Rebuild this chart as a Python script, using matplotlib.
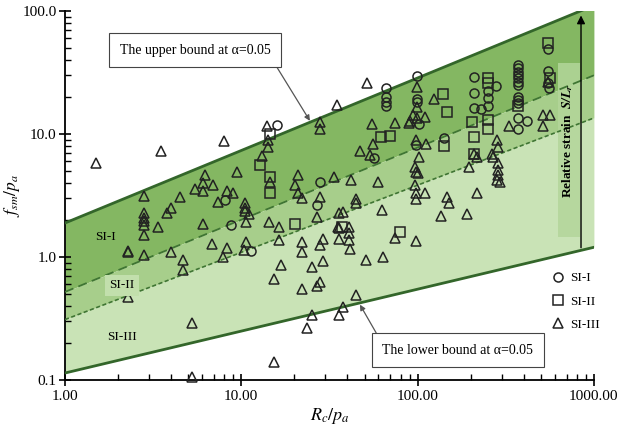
"""Strength ratio vs. confinement ratio with alpha=0.05 bounds and SI zones."""

import matplotlib
matplotlib.use("Agg")
import matplotlib.pyplot as plt
from matplotlib.lines import Line2D
from matplotlib.ticker import LogLocator, FormatStrFormatter, NullFormatter

plt.rcParams['font.family'] = ['Liberation Serif', 'DejaVu Serif']
plt.rcParams['mathtext.fontset'] = 'stix'

# bounding lines (two end points each, x = Rc/pa)
BOUND_X = [1.0, 1000.0]
UPPER = [1.89, 111.0]
SPLIT_12 = [0.52, 30.0]
SPLIT_23 = [0.31, 13.5]
LOWER = [0.114, 1.2]

# SI-I (circles)
si1_x = [16.0, 27.9, 66.2, 66.2, 66.2, 66.2, 98.8, 98.8, 98.8, 102, 56.8, 97.9, 141,
         209, 277, 252, 252, 252, 209, 209, 228,
         372, 372, 372, 372, 372, 372, 372, 372, 372, 372, 372, 372, 416,
         551, 551, 551, 558, 8.09, 8.71, 11.3, 27.0]
si1_y = [11.8, 4.09, 23.5, 20.1, 18.3, 16.9, 29.6, 19.1, 18.3, 12.1, 6.42, 8.14, 9.23,
         29.2, 24.6, 22.5, 19.5, 16.9, 21.4, 16.2, 15.9,
         36.4, 34.2, 32.1, 30.2, 28.4, 26.6, 25.0, 20.1, 18.9, 17.8, 13.4, 10.9, 12.8,
         48.8, 32.7, 25.8, 23.5, 2.91, 1.82, 1.12, 2.65]

# SI-II (squares)
si2_x = [14.5, 12.8, 14.5, 14.5, 140, 147, 61.8, 69.7, 141, 252, 252, 203, 252, 252,
         209, 209, 372, 551, 564, 20.2, 37.1, 79.5]
si2_y = [9.95, 5.57, 4.50, 3.33, 21.0, 15.2, 9.40, 9.64, 7.99, 28.4, 25.8, 12.6, 13.0, 11.0,
         9.51, 6.88, 16.9, 55.2, 28.4, 1.85, 1.74, 1.61]

# SI-III (triangles)
si3_x = [1.50, 3.49, 7.98, 14.0, 14.2, 14.2, 13.1, 9.49, 6.22, 6.09, 5.46, 6.93, 6.09,
         8.26, 9.01, 14.5, 21.0, 20.2, 21.0, 33.6, 27.9, 27.9, 34.8, 2.81, 4.49,
         51.8, 98.8, 98.8, 94.6, 90.6, 110, 99.6, 124, 54.9, 74.5, 89.8, 55.6, 47.1, 53.7,
         97.9, 112, 102, 96.6, 101, 97.9, 41.8, 59.8, 96.6, 209, 216, 263, 269, 287, 281,
         196, 287, 287, 287, 293, 281, 331, 551, 517, 564, 517,
         2.81, 2.81, 2.81, 2.81, 2.81, 2.81, 2.29, 2.29, 3.38, 3.78, 3.99, 3.99, 4.65, 4.65,
         2.29, 5.23, 5.23, 6.09, 6.79, 7.41, 8.33, 7.90, 10.5, 10.5, 10.5, 11.0, 10.6, 10.6,
         10.3, 14.4, 16.3, 16.3, 16.9, 15.4, 22.0, 27.9, 27.0, 22.2, 22.2, 25.1, 22.2, 27.9,
         26.8, 29.2, 27.9, 29.2, 25.1, 23.5, 15.4, 36.0, 36.0, 36.0, 36.0,
         44.7, 44.7, 37.6, 62.5, 97.9, 110, 97.9, 147, 151, 218, 135, 190, 35.5, 41.0, 41.0,
         41.0, 41.4, 74.5, 97.9, 50.9, 63.9, 44.7, 37.9]
si3_y = [5.81, 7.27, 8.77, 11.6, 8.93, 7.88, 6.62, 4.94, 4.64, 4.02, 3.55, 3.85, 3.46,
         3.46, 3.33, 4.09, 4.64, 3.85, 3.33, 4.50, 12.6, 10.9, 17.2, 3.13, 3.06,
         26.1, 24.0, 16.7, 14.3, 12.8, 13.8, 13.4, 19.1, 12.1, 12.4, 12.4, 8.29, 7.31, 6.75,
         8.93, 8.29, 6.54, 5.42, 4.85, 4.94, 4.23, 4.09, 3.85, 6.88, 6.54, 6.88, 6.54, 7.88, 8.93,
         5.42, 5.78, 5.10, 4.64, 4.09, 4.23, 11.6, 26.6, 14.3, 14.3, 11.6,
         2.27, 2.06, 1.97, 1.82, 1.51, 1.03, 1.10, 1.12, 1.76, 2.29, 2.49, 1.10, 0.946, 0.784,
         0.476, 0.289, 0.105, 1.84, 1.28, 2.82, 1.18, 1.00, 2.76, 2.49, 2.38, 2.24, 1.94, 1.33,
         1.14, 1.94, 1.76, 1.37, 0.861, 0.659, 3.00, 3.06, 2.10, 1.33, 1.10, 0.834, 0.546, 0.630,
         0.581, 1.39, 1.25, 0.928, 0.338, 0.266, 0.141, 2.27, 1.71, 1.39, 0.338,
         2.94, 2.73, 2.33, 2.41, 3.30, 3.33, 2.94, 3.09, 2.73, 3.30, 2.15, 2.24, 1.74, 1.76, 1.56,
         1.37, 1.16, 1.42, 1.36, 0.946, 1.00, 0.491, 0.394]


def plot_chart(save_path="out.png"):
    fig = plt.figure(figsize=(6.23, 4.36), dpi=100)
    ax = fig.add_axes([0.1043, 0.1284, 0.849, 0.8463])
    ax.set_xscale('log')
    ax.set_yscale('log')

    # shaded SI bands
    ax.fill_between(BOUND_X, SPLIT_12, UPPER, color='#84b762', lw=0, zorder=1)
    ax.fill_between(BOUND_X, SPLIT_23, SPLIT_12, color='#a7ce8b', lw=0, zorder=1)
    ax.fill_between(BOUND_X, LOWER, SPLIT_23, color='#c9e3b6', lw=0, zorder=1)

    ax.plot(BOUND_X, UPPER, '-', color='#33662a', lw=2, zorder=3)
    ax.plot(BOUND_X, LOWER, '-', color='#33662a', lw=2, zorder=3)
    ax.plot(BOUND_X, SPLIT_12, color='#3f7533', lw=1.3, dashes=(5, 3), zorder=3)
    ax.plot(BOUND_X, SPLIT_23, color='#3f7533', lw=1.2, dashes=(2.5, 1.5), zorder=3)

    # relative strain band + arrow
    ax.add_patch(plt.Rectangle((626, 1.45), 834 - 626, 37.8 - 1.45,
                               facecolor='#b3d69a', edgecolor='none', alpha=0.85, zorder=2))
    ax.text(711, 8.8, r'Relative strain  $\mathbfit{S/L_r}$', rotation=90,
            ha='center', va='center', fontsize=9.5, fontweight='bold', zorder=6)
    ax.annotate('', xy=(845, 97), xytext=(845, 1.13),
                arrowprops=dict(arrowstyle='-|>', color='black', lw=1,
                                mutation_scale=12), zorder=6)

    mk = dict(linestyle='none', markerfacecolor='none', markeredgecolor='#222222',
              markeredgewidth=1.1, markersize=6.5, zorder=4, clip_on=False)
    ax.plot(si1_x, si1_y, marker='o', **mk)
    ax.plot(si2_x, si2_y, marker='s', **mk)
    ax.plot(si3_x, si3_y, marker='^', **mk)

    # zone labels
    ax.text(1.69, 1.45, 'SI-I', fontsize=9.5, ha='center', va='center', zorder=5)
    ax.text(2.10, 0.59, 'SI-II', fontsize=9.5, ha='center', va='center', zorder=5,
            bbox=dict(boxstyle='square,pad=0.35', facecolor='#c2dfac', edgecolor='none'))
    ax.text(2.10, 0.224, 'SI-III', fontsize=9.5, ha='center', va='center', zorder=5)

    # bound callouts
    box = dict(boxstyle='square,pad=0.75', facecolor='white', edgecolor='#444444', lw=0.8)
    ax.annotate('The upper bound at α=0.05', xy=(24.5, 12.8), xytext=(5.46, 48.2),
                ha='center', va='center', fontsize=10, bbox=box, zorder=7,
                arrowprops=dict(arrowstyle='-|>', color='#555555', lw=0.9,
                                mutation_scale=8, relpos=(1, 0), shrinkA=0, shrinkB=0))
    ax.annotate('The lower bound at α=0.05', xy=(47.1, 0.41), xytext=(169, 0.175),
                ha='center', va='center', fontsize=10, bbox=box, zorder=7,
                arrowprops=dict(arrowstyle='-|>', color='#555555', lw=0.9,
                                mutation_scale=8, relpos=(0, 1), shrinkA=0, shrinkB=0))

    ax.set_xlim(1, 1000)
    ax.set_ylim(0.1, 100)
    for side in ('top', 'right'):
        ax.spines[side].set_visible(False)
    ax.spines['left'].set_linewidth(1.3)
    ax.spines['bottom'].set_linewidth(1.3)

    ax.xaxis.set_major_locator(LogLocator(base=10, numticks=10))
    ax.yaxis.set_major_locator(LogLocator(base=10, numticks=10))
    ax.xaxis.set_minor_locator(LogLocator(base=10, subs=range(2, 10), numticks=20))
    ax.yaxis.set_minor_locator(LogLocator(base=10, subs=range(2, 10), numticks=20))
    ax.xaxis.set_major_formatter(FormatStrFormatter('%.2f'))
    ax.yaxis.set_major_formatter(FormatStrFormatter('%.1f'))
    ax.xaxis.set_minor_formatter(NullFormatter())
    ax.yaxis.set_minor_formatter(NullFormatter())
    ax.tick_params(which='major', direction='inout', length=8, width=1.2, labelsize=11)
    ax.tick_params(which='major', axis='y', pad=2)
    ax.tick_params(which='minor', direction='in', length=4, width=1)

    ax.set_xlabel(r'$R_c/p_a$', fontsize=13, labelpad=2)
    ax.set_ylabel(r'$f_{sm}/p_a$', fontsize=12.5, labelpad=0)

    handles = [Line2D([], [], marker=m, linestyle='none', markerfacecolor='none',
                      markeredgecolor='#222222', markeredgewidth=1.1, markersize=6.5)
               for m in ('o', 's', '^')]
    ax.legend(handles, ['SI-I', 'SI-II', 'SI-III'], loc='upper left',
              bbox_to_anchor=(0.895, 0.325), frameon=False, fontsize=9.5,
              handletextpad=0.3, labelspacing=0.85, handlelength=1.2)

    fig.savefig(save_path, dpi=100)
    plt.close(fig)


if __name__ == "__main__":
    plot_chart()
